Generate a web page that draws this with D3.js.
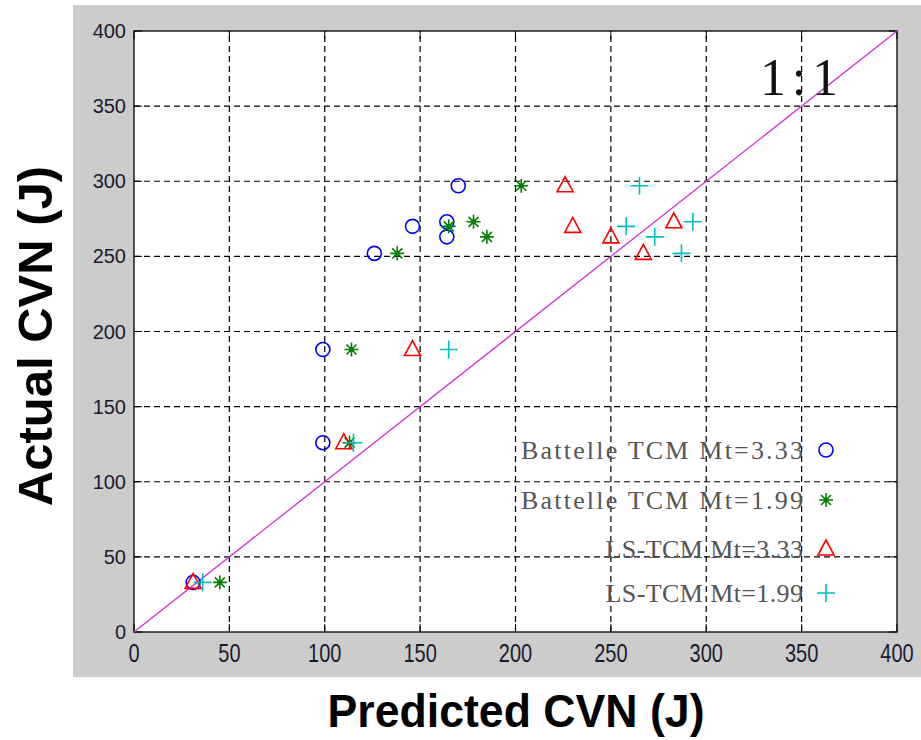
<!DOCTYPE html>
<html>
<head>
<meta charset="utf-8">
<script src="https://cdn.jsdelivr.net/npm/d3@7"></script>
<style>
  html, body { margin: 0; padding: 0; background: #fff; }
  svg { display: block; }
</style>
</head>
<body>
<svg id="chart" width="921" height="740"></svg>
<script>
// Actual Charpy energies (J) shared by all four models
const actualCVN = [297, 270, 273, 263, 252, 188, 126, 33];

// Predicted Charpy energies (J) for each model
const battelle333 = [170, 146, 164, 164, 126, 99, 99, 31];
const battelle199 = [203, 165, 178, 185, 138, 114, 113, 45];
const lsTcm333   = [226, 230, 283, 250, 267, 146, 110, 31];
const lsTcm199   = [265, 258, 293, 273, 287, 165, 115, 36];

const seriesNames = [
  "Battelle TCM Mt=3.33",
  "Battelle TCM Mt=1.99",
  "LS-TCM Mt=3.33",
  "LS-TCM Mt=1.99"
];

const xTicks = [0, 50, 100, 150, 200, 250, 300, 350, 400];
const yTicks = [0, 50, 100, 150, 200, 250, 300, 350, 400];

const svg = d3.select("#chart");

// figure background
svg.append("rect").attr("x", 73).attr("y", 5).attr("width", 848).attr("height", 672)
  .attr("fill", "#cccccc");

const L = 134, R = 897, T = 31, B = 632;
const x = d3.scaleLinear().domain([0, 400]).range([L, R]);
const y = d3.scaleLinear().domain([0, 400]).range([B, T]);

// plot area
svg.append("rect").attr("x", L).attr("y", T).attr("width", R - L).attr("height", B - T)
  .attr("fill", "#fff");

// dashed grid
const grid = svg.append("g").attr("stroke", "#000").attr("stroke-width", 1.2)
  .attr("stroke-dasharray", "6,4");
grid.selectAll(".gx").data(xTicks.slice(1, -1)).join("line")
  .attr("x1", d => x(d)).attr("x2", d => x(d)).attr("y1", B).attr("y2", T);
grid.selectAll(".gy").data(yTicks.slice(1, -1)).join("line")
  .attr("y1", d => y(d)).attr("y2", d => y(d)).attr("x1", L).attr("x2", R);

// inward ticks on all four sides
const tickLen = 8;
const tk = svg.append("g").attr("stroke", "#000").attr("stroke-width", 1);
xTicks.forEach(v => {
  tk.append("line").attr("x1", x(v)).attr("x2", x(v)).attr("y1", B).attr("y2", B - tickLen);
  tk.append("line").attr("x1", x(v)).attr("x2", x(v)).attr("y1", T).attr("y2", T + tickLen);
});
yTicks.forEach(v => {
  tk.append("line").attr("y1", y(v)).attr("y2", y(v)).attr("x1", L).attr("x2", L + tickLen);
  tk.append("line").attr("y1", y(v)).attr("y2", y(v)).attr("x1", R).attr("x2", R - tickLen);
});

// axis box
svg.append("rect").attr("x", L).attr("y", T).attr("width", R - L).attr("height", B - T)
  .attr("fill", "none").attr("stroke", "#000").attr("stroke-width", 1.3);

// tick labels (x labels are horizontally condensed)
svg.append("g").selectAll("text").data(xTicks).join("text")
  .attr("transform", d => `translate(${x(d)},662) scale(0.8,1)`)
  .attr("text-anchor", "middle")
  .attr("font-family", "'Liberation Sans', Arial, sans-serif")
  .attr("font-size", 25).attr("fill", "#1a1a2e")
  .text(d => d);
svg.append("g").selectAll("text").data(yTicks).join("text")
  .attr("x", 126).attr("y", d => y(d) + 7)
  .attr("text-anchor", "end")
  .attr("font-family", "'Liberation Sans', Arial, sans-serif")
  .attr("font-size", 20).attr("fill", "#1a1a2e")
  .text(d => d);

// axis titles
svg.append("text").attr("transform", "translate(516,727) scale(0.95,1)")
  .attr("text-anchor", "middle")
  .attr("font-family", "'Liberation Sans', Arial, sans-serif")
  .attr("font-weight", "bold").attr("font-size", 47).attr("fill", "#000")
  .text("Predicted CVN (J)");
svg.append("text").attr("transform", "translate(52,336) rotate(-90)")
  .attr("text-anchor", "middle")
  .attr("font-family", "'Liberation Sans', Arial, sans-serif")
  .attr("font-weight", "bold").attr("font-size", 49).attr("fill", "#000")
  .text("Actual CVN (J)");

// 1:1 reference line
svg.append("line").attr("x1", x(0)).attr("y1", y(0)).attr("x2", x(400)).attr("y2", y(400))
  .attr("stroke", "#d030d0").attr("stroke-width", 1.3);

svg.append("text").attr("x", 760).attr("y", 95)
  .attr("font-family", "'Liberation Serif', 'Times New Roman', serif")
  .attr("font-size", 52).attr("fill", "#111")
  .attr("textLength", 78).attr("lengthAdjust", "spacing")
  .text("1:1");

// marker path builders, centred on (0,0)
const markers = {
  circle: () => "M7,0A7,7 0 1,1 -7,0A7,7 0 1,1 7,0Z",
  star: () => {
    const s = 7, d = 5;
    return `M${-s},0L${s},0M0,${-s}L0,${s}M${-d},${-d}L${d},${d}M${-d},${d}L${d},${-d}`;
  },
  triangle: () => "M0,-9L8,6L-8,6Z",
  plus: () => "M-9,0L9,0M0,-9L0,9"
};

const series = [
  { name: seriesNames[0], pred: battelle333, color: "#0000ff", shape: "circle", width: 1.6 },
  { name: seriesNames[1], pred: battelle199, color: "#008000", shape: "star", width: 1.6 },
  { name: seriesNames[2], pred: lsTcm333,   color: "#ff0000", shape: "triangle", width: 1.6 },
  { name: seriesNames[3], pred: lsTcm199,   color: "#00bfbf", shape: "plus", width: 1.6 }
];

const pts = svg.append("g");
series.forEach(s => {
  pts.append("g").selectAll("path").data(s.pred.map((p, i) => [p, actualCVN[i]])).join("path")
    .attr("transform", d => `translate(${x(d[0])},${y(d[1])})`)
    .attr("d", markers[s.shape]())
    .attr("fill", "none").attr("stroke", s.color).attr("stroke-width", s.width);
  if (s.shape === "star") {
    pts.append("g").selectAll("circle").data(s.pred.map((p, i) => [p, actualCVN[i]])).join("circle")
      .attr("cx", d => x(d[0])).attr("cy", d => y(d[1])).attr("r", 2.5).attr("fill", s.color);
  }
});

// legend
const legRows = [450, 500, 549, 593];
const leg = svg.append("g");
series.forEach((s, i) => {
  const yy = legRows[i];
  leg.append("text").attr("x", 803).attr("y", yy + 9)
    .attr("text-anchor", "end")
    .attr("font-family", "'Liberation Serif', 'Times New Roman', serif")
    .attr("font-size", 26).attr("fill", "#555")
    .attr("textLength", s.name.length * 14.1).attr("lengthAdjust", "spacing")
    .text(s.name);
  leg.append("path").attr("transform", `translate(826,${yy})`)
    .attr("d", markers[s.shape]())
    .attr("fill", "none").attr("stroke", s.color).attr("stroke-width", s.width);
  if (s.shape === "star") {
    leg.append("circle").attr("cx", 826).attr("cy", yy).attr("r", 2.5).attr("fill", s.color);
  }
});
</script>
</body>
</html>
